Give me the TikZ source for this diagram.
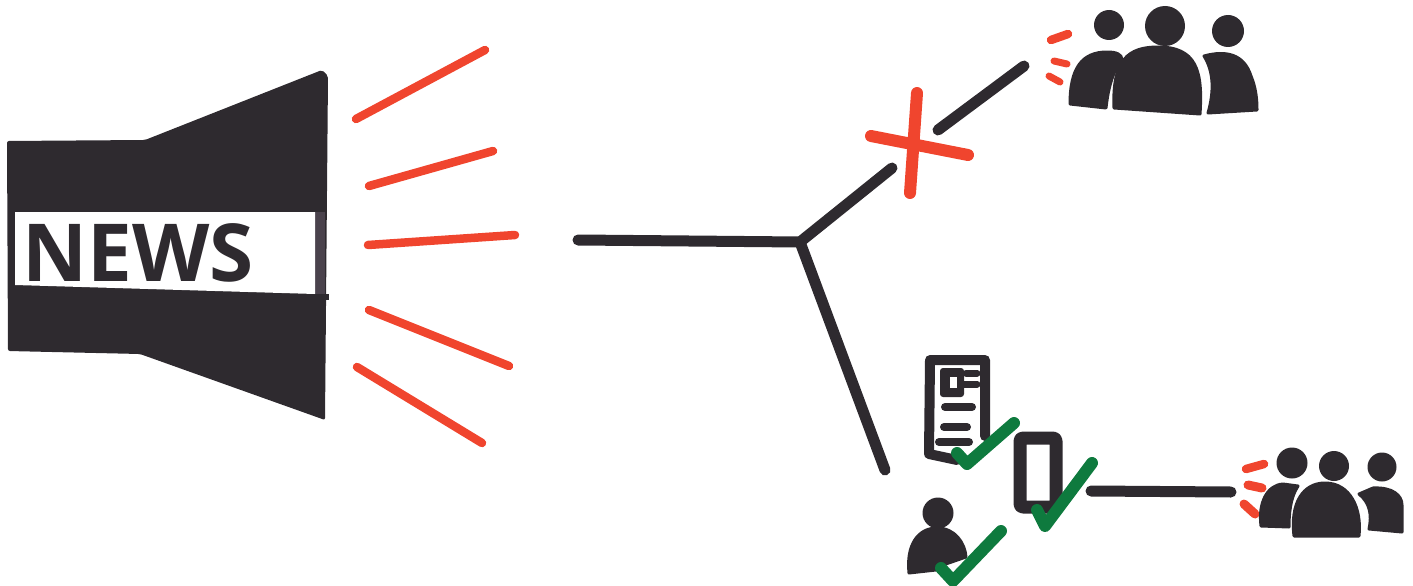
\documentclass[tikz,border=0pt]{standalone}
\usepackage{fontspec}
\usepackage{tikz}
\usetikzlibrary{calc}
\newfontfamily\newsfont{Open Sans}
\definecolor{inkblack}{HTML}{2E2A2F}
\definecolor{inkgrey}{HTML}{4A424C}
\definecolor{penred}{HTML}{F0452E}
\definecolor{pengreen}{HTML}{0E7A3E}
\tikzset{
  inkline/.style={draw=inkblack, line width=11pt, line cap=round, line join=round},
  inkblob/.style={fill=inkblack, draw=inkblack, line width=3pt, line join=round},
  rayline/.style={draw=penred, line width=8.5pt, line cap=round},
  tickline/.style={draw=pengreen, line width=12pt, line cap=round, line join=round}
}
\begin{document}
\begin{tikzpicture}[x=1pt, y=-1pt]
  \useasboundingbox (0, 0) rectangle (1413, 586);

  % ===== megaphone =====
  \fill[inkblack, rounded corners=2pt] (7, 141) -- (145, 140) -- (322, 70) -- (328, 76)
    -- (325, 420) -- (140, 354) -- (8, 351) -- cycle;
  \fill[inkgrey] (315, 212) rectangle (325, 294);
  \fill[white] (15, 212) -- (315, 212) -- (315, 294) -- (15, 285) -- cycle;
  \fill[inkblack] (315, 294) rectangle (329, 300);
  \node[inner sep=0pt, anchor=base west, text=inkblack, font=\newsfont\bfseries\fontsize{80}{80}\selectfont]
    (newslabel) at (22, 281) {NEWS};

  % ----- sound rays -----
  \draw[rayline] (356, 119) -- (485, 50);
  \draw[rayline] (369, 186) -- (493, 151);
  \draw[rayline] (368, 245) -- (515, 235);
  \draw[rayline] (369, 310) -- (509, 366);
  \draw[rayline] (357, 367) -- (482, 443);

  % ===== branching line =====
  \coordinate (start) at (578, 240);
  \coordinate (fork) at (800, 242);
  \coordinate (gapin) at (892, 168);
  \coordinate (gapout) at (938, 130);
  \coordinate (topend) at (1024, 66);
  \coordinate (lowend) at (885, 470);
  \draw[inkline] (start) -- (fork) -- (gapin);
  \draw[inkline] (fork) -- (lowend);
  \draw[inkline] (gapout) -- (topend);

  % ----- red cross -----
  \draw[rayline, line width=12pt] (917, 93) -- (910, 193);
  \draw[rayline, line width=12pt] (871, 136) -- (968, 155);

  % ===== top audience =====
  \fill[inkblack] (1109, 25) circle (15);
  \fill[inkblack] (1165, 26) circle (20);
  \fill[inkblack] (1228, 31) circle (16);
  \path[inkblob] (1070, 104) .. controls (1070, 68) and (1082, 52) .. (1107, 52)
    .. controls (1116, 52) and (1122, 54) .. (1122, 60)
    .. controls (1112, 72) and (1108, 90) .. (1106, 108) -- cycle;
  \path[inkblob] (1114, 108) .. controls (1112, 60) and (1128, 47) .. (1158, 47)
    .. controls (1196, 47) and (1203, 70) .. (1200, 114) -- cycle;
  \path[inkblob] (1204, 56) .. controls (1226, 50) and (1244, 54) .. (1251, 76)
    .. controls (1256, 88) and (1257, 100) .. (1257, 110) -- (1208, 113)
    .. controls (1214, 92) and (1214, 72) .. (1204, 56) -- cycle;

  % ----- red marks -----
  \draw[rayline] (1051, 40) -- (1068, 34);
  \draw[rayline, line width=7pt] (1054, 61) -- (1067, 64);
  \draw[rayline, line width=7pt] (1049, 76) -- (1060, 82);

  % ===== document =====
  \draw[inkline, line width=10pt] (985, 436) -- (985, 360) -- (930, 360) -- (929, 454) -- (957, 460);
  \fill[inkblack, rounded corners=3pt] (940, 368) rectangle (964, 397);
  \fill[white] (950, 377) rectangle (957, 388);
  \draw[inkline, line width=7pt] (966, 373) -- (977, 373);
  \draw[inkline, line width=7pt] (963, 384) -- (977, 384);
  \draw[inkline, line width=8pt] (945, 407) -- (972, 407);
  \draw[inkline, line width=8pt] (944, 427) -- (967, 427);
  \draw[inkline, line width=8pt] (939, 442) -- (969, 442);
  \draw[tickline] (957, 453) -- (967, 464) -- (1014, 423);

  % ===== phone =====
  \draw[inkline, line width=13pt, line cap=butt, rounded corners=3pt] (1020, 438) rectangle (1056, 507);
  \draw[tickline] (1037, 510) -- (1045, 526) -- (1092, 463);

  % ===== person =====
  \fill[inkblack] (938, 513) circle (15.5);
  \path[inkblob] (909, 573) .. controls (906, 545) and (918, 528) .. (937, 528)
    .. controls (955, 528) and (965, 543) .. (966, 557)
    -- (940, 566) -- (936, 570) -- cycle;
  \draw[tickline] (941, 568) -- (953, 581) -- (1001, 531);

  % ===== feed to lower audience =====
  \coordinate (feedin) at (1091, 491);
  \coordinate (feedout) at (1231, 492);
  \draw[inkline] (feedin) -- (feedout);

  % ----- red marks -----
  \draw[rayline] (1246, 469) -- (1264, 464);
  \draw[rayline, line width=9pt] (1248, 485) -- (1262, 488);
  \draw[rayline, line width=9pt] (1244, 504) -- (1255, 514);

  % ===== lower audience =====
  \fill[inkblack] (1292, 463) circle (15.5);
  \fill[inkblack] (1334, 466) circle (15);
  \fill[inkblack] (1382, 467) circle (14.5);
  \path[inkblob] (1261, 526) .. controls (1258, 503) and (1267, 485) .. (1283, 484)
    -- (1298, 486) .. controls (1290, 498) and (1289, 515) .. (1289, 527) -- cycle;
  \path[inkblob] (1294, 536) .. controls (1290, 503) and (1303, 483) .. (1325, 483)
    .. controls (1350, 483) and (1362, 508) .. (1359, 536) -- cycle;
  \path[inkblob] (1359, 494) -- (1373, 488) .. controls (1392, 487) and (1402, 495) .. (1402, 505)
    -- (1402, 532) -- (1369, 529) .. controls (1372, 515) and (1370, 503) .. (1359, 494) -- cycle;
\end{tikzpicture}
\end{document}
